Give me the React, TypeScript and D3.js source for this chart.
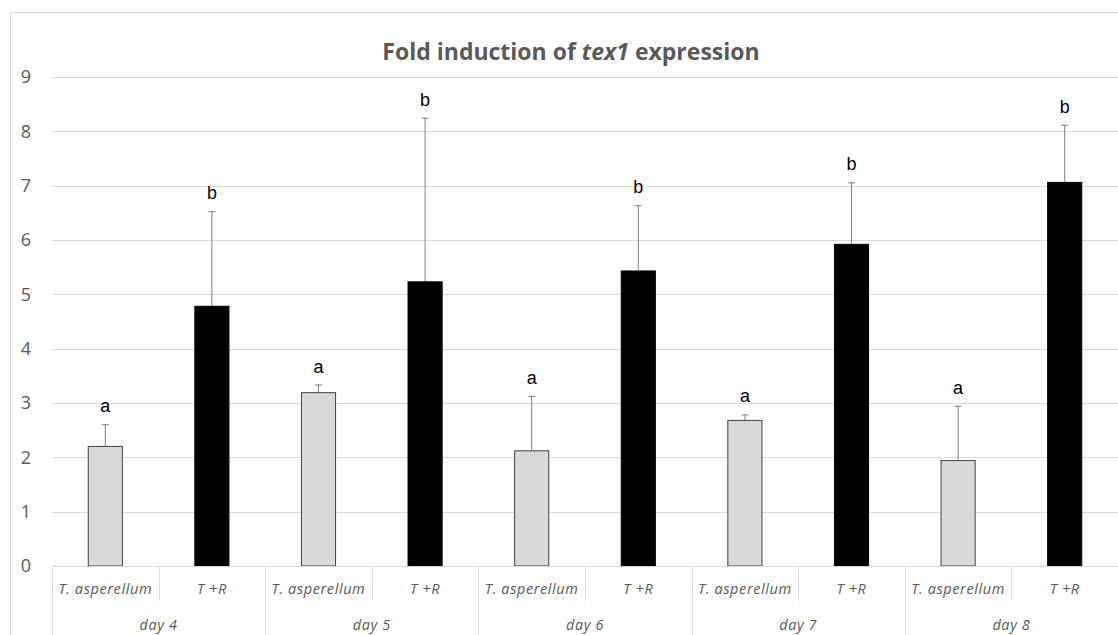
import React from "react";
import * as d3 from "d3";

// Treatment groups per sampling day
const days = ["day 4", "day 5", "day 6", "day 7", "day 8"];
const treatments = ["T. asperellum", "T +R"];

// Mean fold induction per day for each treatment
const asperellumMeans = [2.2, 3.19, 2.12, 2.68, 1.94];
const combinedMeans = [4.78, 5.23, 5.43, 5.92, 7.06];

// Upper end of the error bar per day
const asperellumUpper = [2.61, 3.34, 3.13, 2.79, 2.95];
const combinedUpper = [6.53, 8.25, 6.64, 7.06, 8.12];

// Significance letters
const asperellumLetters = ["a", "a", "a", "a", "a"];
const combinedLetters = ["b", "b", "b", "b", "b"];

const yTicks = [0, 1, 2, 3, 4, 5, 6, 7, 8, 9];

const W = 1118;
const H = 635;
const FONT = "'Open Sans', 'Noto Sans', sans-serif";

type Bar = {
  key: string;
  day: string;
  treatment: string;
  value: number;
  upper: number;
  letter: string;
  dark: boolean;
};

const bars: Bar[] = days.flatMap((day, i) => [
  {
    key: `${day}-0`,
    day,
    treatment: treatments[0],
    value: asperellumMeans[i],
    upper: asperellumUpper[i],
    letter: asperellumLetters[i],
    dark: false,
  },
  {
    key: `${day}-1`,
    day,
    treatment: treatments[1],
    value: combinedMeans[i],
    upper: combinedUpper[i],
    letter: combinedLetters[i],
    dark: true,
  },
]);

export default function App() {
  const left = 52;
  const right = 1118;
  const top = 77;
  const bottom = 566;

  const x = d3
    .scaleBand<string>()
    .domain(bars.map((b) => b.key))
    .range([left, right])
    .paddingInner(0)
    .paddingOuter(0);
  const y = d3.scaleLinear().domain([0, 9]).range([bottom, top]);

  const bw = x.bandwidth();
  const barW = bw * 0.32;
  const grid = "#d9d9d9";

  return (
    <svg
      width={W}
      height={H}
      style={{ position: "absolute", left: 0, top: 0, background: "#fff" }}
      fontFamily={FONT}
    >
      {/* chart frame */}
      <rect x={10.5} y={12.5} width={W + 20} height={H + 20} fill="#fff" stroke={grid} />

      {/* title */}
      <text x={571} y={60} textAnchor="middle" fontSize={23} fontWeight="bold" fill="#595959">
        Fold induction of <tspan fontStyle="italic">tex1</tspan> expression
      </text>

      {/* horizontal gridlines and y labels */}
      {yTicks.map((t) => (
        <g key={t}>
          <line x1={left} x2={right} y1={Math.round(y(t)) + 0.5} y2={Math.round(y(t)) + 0.5} stroke={grid} />
          <text x={31} y={y(t)} dy="0.36em" textAnchor="end" fontSize={18} fill="#595959">
            {t}
          </text>
        </g>
      ))}

      {/* bars */}
      {bars.map((b) => {
        const cx = (x(b.key) as number) + bw / 2;
        const y0 = y(b.value);
        return (
          <g key={b.key}>
            <line x1={cx} x2={cx} y1={y0} y2={y(b.upper)} stroke="#7f7f7f" strokeWidth={1} />
            <line x1={cx - 3.5} x2={cx + 3.5} y1={y(b.upper) + 0.5} y2={y(b.upper) + 0.5} stroke="#7f7f7f" />
            <rect
              x={cx - barW / 2}
              y={y0}
              width={barW}
              height={bottom - y0}
              fill={b.dark ? "#000" : "#d9d9d9"}
              stroke={b.dark ? "#000" : "#404040"}
              strokeWidth={1}
            />
            <text
              x={cx}
              y={y(b.upper) - 12}
              textAnchor="middle"
              fontSize={18}
              fontFamily="'Liberation Sans', Arial, sans-serif"
              fill="#000"
            >
              {b.letter}
            </text>
          </g>
        );
      })}

      {/* category axis: treatment row */}
      {bars.map((b, i) => {
        const x0 = x(b.key) as number;
        const isDayStart = i % 2 === 0;
        return (
          <g key={`lab-${b.key}`}>
            <line
              x1={Math.round(x0) + 0.5}
              x2={Math.round(x0) + 0.5}
              y1={bottom}
              y2={isDayStart ? H : 601}
              stroke={grid}
            />
            <text
              x={x0 + bw / 2}
              y={594}
              textAnchor="middle"
              fontSize={14.5}
              fontStyle="italic"
              letterSpacing={0.6}
              fill="#595959"
            >
              {b.treatment}
            </text>
          </g>
        );
      })}

      {/* category axis: day row */}
      {days.map((d) => {
        const x0 = x(`${d}-0`) as number;
        return (
          <text
            key={d}
            x={x0 + bw}
            y={630}
            textAnchor="middle"
            fontSize={14.5}
            fontStyle="italic"
            letterSpacing={0.6}
            fill="#595959"
          >
            {d}
          </text>
        );
      })}

      {/* baseline */}
      <line x1={left} x2={right} y1={bottom + 0.5} y2={bottom + 0.5} stroke={grid} />
    </svg>
  );
}
